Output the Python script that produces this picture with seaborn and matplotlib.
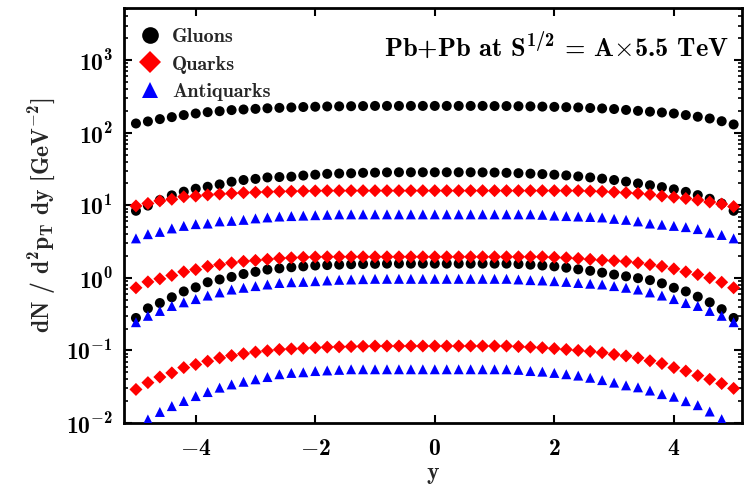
import numpy as np
import pandas as pd
import matplotlib
matplotlib.use("Agg")
import matplotlib.pyplot as plt
from matplotlib.lines import Line2D
from matplotlib.ticker import LogLocator, FixedLocator, NullLocator, FuncFormatter
import seaborn as sns

# ---------------- data ----------------
rapidity = np.linspace(-5.0, 5.0, 51)

gluons_high = [134, 143, 154, 164, 175, 184, 192, 198, 205, 209, 213, 217, 220, 223, 226, 228,
               230, 231, 232, 233, 234, 234, 234, 234, 234, 234,
               234, 234, 234, 234, 233, 233, 232, 231, 229, 227, 225, 223, 219, 216, 212, 206,
               200, 195, 190, 184, 175, 166, 157, 144, 130]
gluons_mid = [8.4, 9.9, 11.8, 13.7, 15.4, 16.9, 18.0, 19.4, 21.1, 22.3, 23.1, 24.2, 24.5, 24.8,
              25.7, 26.4, 27.1, 27.4, 27.6, 28.0, 28.2, 28.4, 28.5, 28.5, 28.5, 28.5,
              28.5, 28.5, 28.5, 28.4, 28.3, 28.0, 27.7, 27.3, 26.9, 26.4, 25.8, 25.0, 24.2, 23.3,
              22.3, 21.2, 20.0, 18.9, 17.8, 16.6, 15.3, 13.8, 12.3, 10.6, 8.4]
gluons_low = [0.28, 0.38, 0.45, 0.54, 0.65, 0.74, 0.87, 0.95, 1.03, 1.13, 1.21, 1.30, 1.35, 1.40,
              1.44, 1.48, 1.50, 1.52, 1.54, 1.55, 1.56, 1.57, 1.57, 1.57, 1.57, 1.57,
              1.57, 1.57, 1.57, 1.57, 1.57, 1.57, 1.55, 1.52, 1.48, 1.44, 1.38, 1.31, 1.25, 1.18,
              1.11, 1.05, 0.99, 0.93, 0.84, 0.73, 0.65, 0.55, 0.46, 0.37, 0.28]

quarks_high = [9.8, 10.6, 11.5, 12.1, 13.1, 13.4, 13.9, 14.3, 14.6, 14.9, 15.1, 15.3, 15.5, 15.6,
               15.7, 15.8, 15.9, 15.9, 15.9, 15.9, 15.9, 15.9, 15.9, 15.9, 15.9, 15.9,
               15.9, 15.9, 15.9, 15.9, 15.9, 15.9, 15.9, 15.9, 15.9, 15.9, 15.9, 15.9, 15.7, 15.5,
               15.2, 14.9, 14.6, 14.1, 13.4, 12.9, 12.4, 11.8, 11.1, 10.4, 9.6]
quarks_mid = [0.73, 0.88, 0.97, 1.08, 1.21, 1.30, 1.44, 1.52, 1.61, 1.69, 1.74, 1.80, 1.86, 1.89,
              1.92, 1.94, 1.95, 1.95, 1.95, 1.95, 1.95, 1.95, 1.95, 1.95, 1.95, 1.95,
              1.95, 1.95, 1.95, 1.95, 1.95, 1.95, 1.95, 1.95, 1.95, 1.92, 1.89, 1.85, 1.80, 1.75,
              1.72, 1.68, 1.61, 1.52, 1.44, 1.33, 1.21, 1.11, 1.00, 0.87, 0.73]
quarks_low = [0.029, 0.036, 0.043, 0.049, 0.058, 0.064, 0.071, 0.079, 0.085, 0.090, 0.095, 0.099,
              0.103, 0.105, 0.107, 0.109, 0.111, 0.112, 0.113, 0.114, 0.115, 0.115, 0.115, 0.115,
              0.115, 0.115,
              0.115, 0.115, 0.115, 0.115, 0.115, 0.115, 0.113, 0.111, 0.109, 0.106, 0.103, 0.100,
              0.097, 0.093, 0.088, 0.084, 0.079, 0.072, 0.066, 0.058, 0.052, 0.045, 0.040, 0.035,
              0.030]

antiquarks_high = [3.5, 4.0, 4.3, 4.8, 5.2, 5.5, 5.6, 6.0, 6.1, 6.3, 6.6, 6.8, 7.0, 7.1, 7.2, 7.3,
                   7.4, 7.5, 7.5, 7.5, 7.5, 7.5, 7.5, 7.5, 7.5, 7.5,
                   7.5, 7.5, 7.5, 7.5, 7.5, 7.5, 7.5, 7.5, 7.4, 7.2, 7.1, 7.0, 6.9, 6.8, 6.5, 6.3,
                   6.0, 5.6, 5.4, 5.2, 5.0, 4.7, 4.2, 3.9, 3.5]
antiquarks_mid = [0.245, 0.30, 0.35, 0.41, 0.46, 0.51, 0.57, 0.63, 0.69, 0.73, 0.77, 0.81, 0.85,
                  0.87, 0.88, 0.90, 0.92, 0.94, 0.95, 0.96, 0.97, 0.97, 0.97, 0.97, 0.97, 0.97,
                  0.97, 0.97, 0.97, 0.97, 0.97, 0.97, 0.95, 0.93, 0.92, 0.90, 0.88, 0.85, 0.83,
                  0.81, 0.77, 0.73, 0.69, 0.63, 0.57, 0.51, 0.45, 0.41, 0.35, 0.30, 0.245]
antiquarks_low = [0.0085, 0.0112, 0.0142, 0.0171, 0.0201, 0.0235, 0.0267, 0.0307, 0.034, 0.037,
                  0.040, 0.043, 0.047, 0.049, 0.050, 0.052, 0.053, 0.054, 0.055, 0.055, 0.055,
                  0.055, 0.055, 0.055, 0.055, 0.055,
                  0.055, 0.055, 0.055, 0.055, 0.055, 0.055, 0.054, 0.052, 0.051, 0.049, 0.047,
                  0.045, 0.042, 0.039, 0.036, 0.033, 0.031, 0.028, 0.025, 0.023, 0.020, 0.0176,
                  0.0144, 0.0113, 0.0085]

partons = ["Gluons", "Quarks", "Antiquarks"]
series = {
    "Gluons": [gluons_high, gluons_mid, gluons_low],
    "Quarks": [quarks_high, quarks_mid, quarks_low],
    "Antiquarks": [antiquarks_high, antiquarks_mid, antiquarks_low],
}
x_ticks = [-4, -2, 0, 2, 4]
title_text = r"Pb+Pb at S$^{1/2}$ = A$\times$5.5 TeV"
x_label = "y"
y_label = r"dN / d$^{2}$p$_{\rm T}$ dy [GeV$^{-2}$]"

# ---------------- style ----------------
sns.set_style("ticks")
plt.rcParams["font.family"] = ["cmb10", "DejaVu Serif"]
plt.rcParams["mathtext.fontset"] = "custom"
plt.rcParams["mathtext.rm"] = "cmb10"
plt.rcParams["mathtext.it"] = "cmb10"
plt.rcParams["mathtext.bf"] = "cmb10"
plt.rcParams["mathtext.fallback"] = "cm"
plt.rcParams["axes.formatter.use_mathtext"] = True

colors = {"Gluons": "#000000", "Quarks": "#ff0000", "Antiquarks": "#0000ff"}
markers = {"Gluons": "o", "Quarks": "D", "Antiquarks": "^"}
sizes = {"Gluons": 52, "Quarks": 44, "Antiquarks": 52}

rows = []
for p in partons:
    for k, vals in enumerate(series[p]):
        for xv, yv in zip(rapidity, vals):
            rows.append({"y": xv, "dN": yv, "parton": p, "set": k})
df = pd.DataFrame(rows)

fig = plt.figure(figsize=(7.47, 4.84), dpi=100)
ax = fig.add_axes([124 / 747, 1 - 423 / 484, 618 / 747, 415 / 484])

for p in partons:
    sub = df[df["parton"] == p]
    sns.scatterplot(data=sub, x="y", y="dN", ax=ax, color=colors[p], marker=markers[p],
                    s=sizes[p], edgecolor="none", linewidth=0, legend=False, zorder=3)

ax.set_yscale("log")
ax.set_xlim(-5.2, 5.14)
ax.set_ylim(0.01, 5230)

ax.xaxis.set_major_locator(FixedLocator(x_ticks))
ax.xaxis.set_minor_locator(NullLocator())
ax.yaxis.set_major_locator(LogLocator(base=10, numticks=12))
ax.yaxis.set_minor_locator(LogLocator(base=10, subs=np.arange(2, 10), numticks=12))


def fmt_x(v, pos):
    return r"$%d$" % int(round(v))


def fmt_y(v, pos):
    e = int(round(np.log10(v)))
    return r"$10^{%d}$" % e


ax.xaxis.set_major_formatter(FuncFormatter(fmt_x))
ax.yaxis.set_major_formatter(FuncFormatter(fmt_y))

ax.tick_params(axis="both", which="both", direction="in", top=True, right=True,
               colors="black")
ax.tick_params(axis="both", which="major", length=6, width=1.5, labelsize=17)
ax.tick_params(axis="x", which="major", pad=11)
ax.tick_params(axis="y", which="major", pad=8)
ax.tick_params(axis="y", which="minor", length=3, width=1.2)
for sp in ax.spines.values():
    sp.set_linewidth(2)
    sp.set_color("black")

ax.set_xlabel(x_label, fontsize=17, labelpad=1)
ax.set_ylabel(y_label, fontsize=17, labelpad=6)

ax.text(0.978, 0.911, title_text, transform=ax.transAxes, ha="right", va="center",
        fontsize=19, color="black")

handles = [Line2D([], [], linestyle="none", marker=markers[p], color=colors[p],
                  markersize={"Gluons": 12, "Quarks": 11, "Antiquarks": 12}[p],
                  markeredgewidth=0, label=p) for p in partons]
leg = ax.legend(handles=handles, loc="upper left", bbox_to_anchor=(0.0, 0.99),
                frameon=False, fontsize=14.5, handlelength=1.0, handletextpad=0.6,
                labelspacing=0.45, borderpad=0.3)

fig.savefig("out.png", dpi=100)
